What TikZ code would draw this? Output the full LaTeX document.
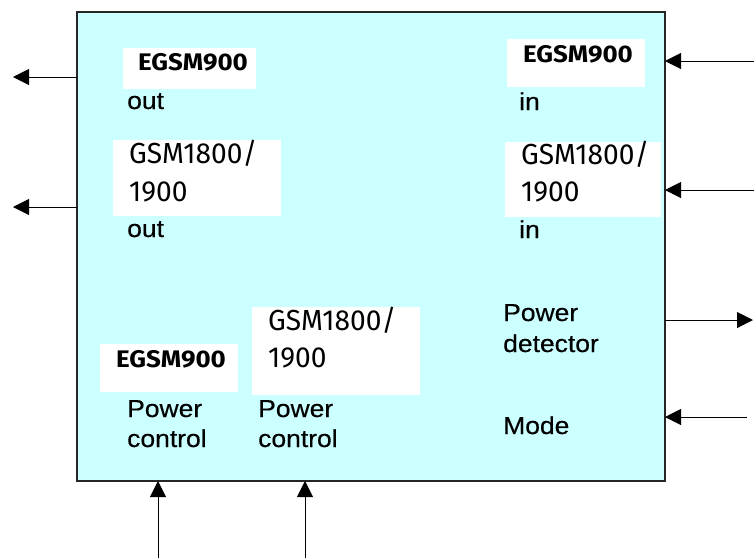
\documentclass[tikz,border=0pt]{standalone}
\usepackage{fontspec}
\usetikzlibrary{arrows.meta}
\newfontfamily\arialf[FakeStretch=1.08,FakeBold=0.4]{Liberation Sans}
\newfontfamily\egsmf[FakeStretch=1.08]{Fira Sans}
\newfontfamily\gsmf[FakeStretch=0.97]{Fira Sans}
\definecolor{boxcyan}{RGB}{204,255,255}
\tikzset{
  lbl/.style={inner sep=0pt, anchor=base west, font=\arialf\fontsize{24.5}{30}\selectfont},
  egsm/.style={inner sep=0pt, anchor=base west, font=\egsmf\bfseries\fontsize{24}{28}\selectfont},
  gsm/.style={inner sep=0pt, anchor=base west, font=\gsmf\fontsize{29}{36}\selectfont},
  wbox/.style={fill=white, draw=none, inner sep=0pt},
  arr/.style={line width=1pt, -{Triangle[length=16pt,width=16pt]}},
}
\begin{document}
\begin{tikzpicture}[x=1pt,y=-1pt]
\useasboundingbox (0,0) rectangle (754,558);
% main block
\draw[fill=boxcyan, line width=1.2pt, draw=black!85] (77,12) rectangle (665,481);
% white label boxes
\node[wbox, minimum width=133pt, minimum height=41pt] (w1) at (189.5,68.5) {};
\node[wbox, minimum width=168pt, minimum height=76pt] (w2) at (197,178) {};
\node[wbox, minimum width=138pt, minimum height=48pt] (w3) at (576,63) {};
\node[wbox, minimum width=156pt, minimum height=75pt] (w4) at (583,179.5) {};
\node[wbox, minimum width=138pt, minimum height=48pt] (w5) at (169,368) {};
\node[wbox, minimum width=168pt, minimum height=88pt] (w6) at (336,351) {};
% texts
\node[egsm] (t1) at (138,70) {EGSM900};
\node[lbl] (t1b) at (127,109) {out};
\node[gsm] (t2a) at (129,163) {GSM1800/};
\node[gsm] (t2b) at (129,201) {1900};
\node[lbl] (t2c) at (127,237) {out};
\node[egsm] (t3) at (523,62) {EGSM900};
\node[lbl] (t3b) at (519,110) {in};
\node[gsm] (t4a) at (521,164) {GSM1800/};
\node[gsm] (t4b) at (521,201) {1900};
\node[lbl] (t4c) at (519,238) {in};
\node[egsm] (t5) at (116,367) {EGSM900};
\node[lbl] (t5b) at (127,417) {Power};
\node[lbl] (t5c) at (127,447) {control};
\node[gsm] (t6a) at (268,330) {GSM1800/};
\node[gsm] (t6b) at (268,367) {1900};
\node[lbl] (t6c) at (258,417) {Power};
\node[lbl] (t6d) at (258,447) {control};
\node[lbl] (t7a) at (503,321) {Power};
\node[lbl] (t7b) at (503,352) {detector};
\node[lbl] (t8) at (503,434) {Mode};
% connector end points
\coordinate (pL1) at (77,77);   \coordinate (eL1) at (13,77);
\coordinate (pL2) at (77,207);  \coordinate (eL2) at (13,207);
\coordinate (pR1) at (665,61);  \coordinate (eR1) at (754,61);
\coordinate (pR2) at (665,190); \coordinate (eR2) at (754,190);
\coordinate (pR3) at (665,320); \coordinate (eR3) at (753,320);
\coordinate (pR4) at (665,417); \coordinate (eR4) at (747,417);
\coordinate (pB1) at (158,481); \coordinate (eB1) at (158,558);
\coordinate (pB2) at (305,481); \coordinate (eB2) at (305,558);
\draw[arr] (pL1) -- (eL1);
\draw[arr] (pL2) -- (eL2);
\draw[arr] (eR1) -- (pR1);
\draw[arr] (eR2) -- (pR2);
\draw[arr] (pR3) -- (eR3);
\draw[arr] (eR4) -- (pR4);
\draw[arr] (eB1) -- (pB1);
\draw[arr] (eB2) -- (pB2);
\end{tikzpicture}
\end{document}
